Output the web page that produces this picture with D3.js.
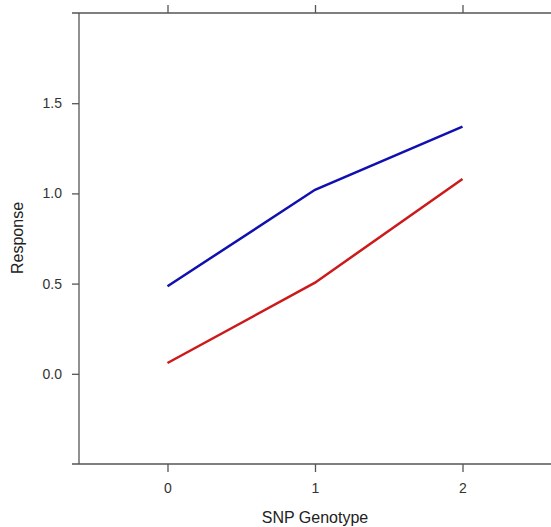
<!DOCTYPE html>
<html>
<head>
<meta charset="utf-8">
<script src="https://cdn.jsdelivr.net/npm/d3@7"></script>
<style>
  body { margin: 0; background: #fff; }
  text { font-family: Arial, "Liberation Sans", sans-serif; }
</style>
</head>
<body>
<div id="chart"></div>
<script>
// genotype vs response, two groups
var width = 551, height = 527;

var genotypes = [0, 1, 2];
var blueVals = [0.485, 1.02, 1.37];
var redVals  = [0.06, 0.505, 1.08];
var yTicks = [0, 0.5, 1.0, 1.5];

// panel edges (don't call it "top", that's window.top)
var pLeft = 79, pTop = 13, pBottom = 464, pRight = 551;

var x = d3.scaleLinear().domain([-0.6, 2.6]).range([pLeft, pRight]);
var y = d3.scaleLinear().domain([-0.5, 2.0]).range([pBottom, pTop]);

var svg = d3.select("div#chart").append("svg")
    .attr("width", width)
    .attr("height", height);

var axisColor = "#555";

// frame lines (left, top, bottom)
svg.append("line").attr("x1", pLeft).attr("x2", pLeft).attr("y1", pTop).attr("y2", pBottom)
    .attr("stroke", axisColor).attr("stroke-width", 1.3);
svg.append("line").attr("x1", pLeft - 7).attr("x2", pRight).attr("y1", pTop).attr("y2", pTop)
    .attr("stroke", axisColor).attr("stroke-width", 1.3);
svg.append("line").attr("x1", pLeft - 7).attr("x2", pRight).attr("y1", pBottom).attr("y2", pBottom)
    .attr("stroke", axisColor).attr("stroke-width", 1.3);

// axes
var yAxis = d3.axisLeft(y).tickValues(yTicks).tickFormat(d3.format(".1f")).tickSize(7).tickPadding(10);
var gy = svg.append("g").attr("transform", "translate(" + pLeft + ",0)").call(yAxis);

var xAxisB = d3.axisBottom(x).tickValues(genotypes).tickFormat(d3.format("d")).tickSize(8).tickPadding(11);
var gx = svg.append("g").attr("transform", "translate(0," + pBottom + ")").call(xAxisB);

var xAxisT = d3.axisTop(x).tickValues(genotypes).tickFormat("").tickSize(8);
var gt = svg.append("g").attr("transform", "translate(0," + pTop + ")").call(xAxisT);

[gy, gx, gt].forEach(function(g) {
  g.select(".domain").remove();
  g.selectAll(".tick line").attr("stroke", axisColor).attr("stroke-width", 1.3);
  g.selectAll(".tick text").attr("fill", "#333").style("font-size", "14px");
});

// lines
var line = d3.line()
    .x(function(d, i) { return x(genotypes[i]); })
    .y(function(d) { return y(d); });

svg.append("path").datum(blueVals)
    .attr("d", line).attr("fill", "none")
    .attr("stroke", "#1010b0").attr("stroke-width", 2.5);

svg.append("path").datum(redVals)
    .attr("d", line).attr("fill", "none")
    .attr("stroke", "#cc1a1a").attr("stroke-width", 2.5);

// titles
svg.append("text")
    .attr("x", x(1)).attr("y", 523)
    .attr("text-anchor", "middle")
    .attr("fill", "#222")
    .style("font-size", "16px")
    .text("SNP Genotype");

svg.append("text")
    .attr("transform", "translate(23,238) rotate(-90)")
    .attr("text-anchor", "middle")
    .attr("fill", "#222")
    .style("font-size", "16px")
    .text("Response");
</script>
</body>
</html>
